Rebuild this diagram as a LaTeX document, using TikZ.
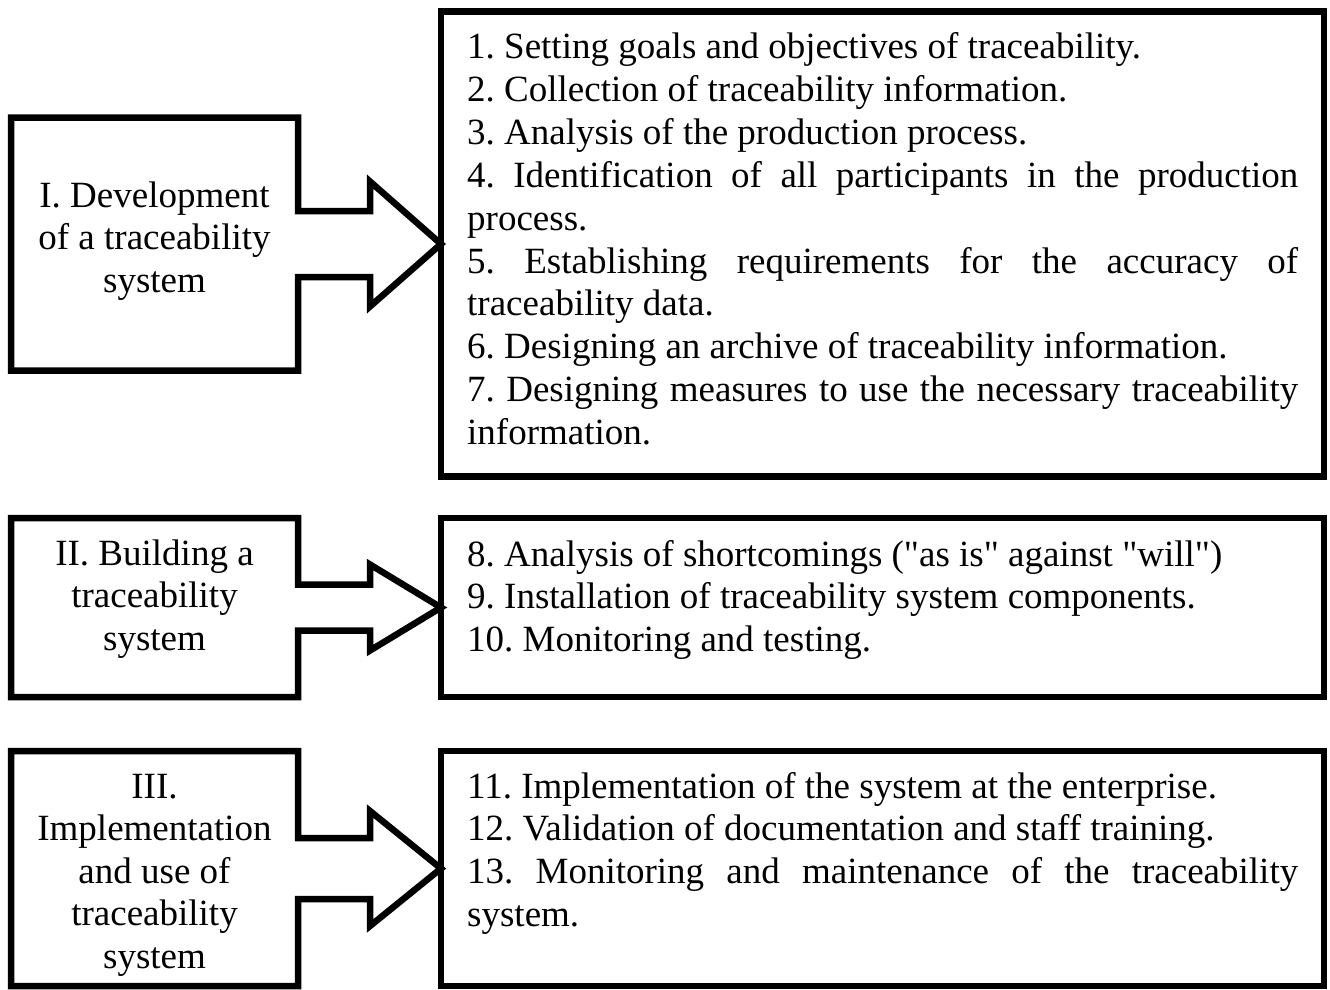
\documentclass[tikz,border=0pt]{standalone}
\usepackage{fontspec}
\setmainfont{Liberation Serif}[Ligatures=TeXOff]
\usetikzlibrary{calc}
\hyphenpenalty=10000
\exhyphenpenalty=10000
\tolerance=10000
\frenchspacing

% Outline of a stage box merged with its block arrow:
% #1 stage node, #2 list node, #3 shaft half-width, #4 head half-height
\newcommand\stagearrow[4]{%
  \draw[stageframe]
    (#1.north west) -- (#1.north east)
    -- ($(#1.east)+(0,-#3)$) -- ($(#1.east)+(72,-#3)$)
    -- ($(#1.east)+(72,-#4)$) -- (#2.west)
    -- ($(#1.east)+(72,#4)$) -- ($(#1.east)+(72,#3)$)
    -- ($(#1.east)+(0,#3)$) -- (#1.south east)
    -- (#1.south west) -- cycle;}

\begin{document}
\begin{tikzpicture}[x=1pt,y=-1pt,
  stageframe/.style={draw=black, line width=6.5pt, line join=miter},
  stagebox/.style={rectangle, inner sep=0pt, outer sep=0pt, minimum width=287pt},
  listbox/.style={rectangle, draw=black, line width=6.5pt, inner sep=0pt,
    outer sep=0pt, minimum width=883pt},
  stagetext/.style={align=center, anchor=base, inner sep=0pt,
    font=\fontsize{37}{42.5}\selectfont\frenchspacing},
  listtext/.style={text width=831pt, align=justify, anchor=base west,
    inner sep=0pt, font=\fontsize{37}{42.8}\selectfont\frenchspacing},
]
\useasboundingbox (0,0) rectangle (1330,990);

% stage I (text nodes are placed by the baseline of their last line)
\node[stagebox, minimum height=253pt] (s1) at (154.5,244) {};
\node[listbox, minimum height=465pt] (r1) at (882.5,244) {};
\stagearrow{s1}{r1}{33}{62.5}
\node[stagetext] (t1) at (154.5,292) {I. Development\\of a traceability\\system};
\node[listtext] (l1) at (467,59) {%
1. Setting goals and objectives of traceability.\par
2. Collection of traceability information.\par
3. Analysis of the production process.\par
4. Identification of all participants in the production\linebreak process.\par
5. Establishing requirements for the accuracy of\linebreak traceability data.\par
6. Designing an archive of traceability information.\par
7. Designing measures to use the necessary traceability\linebreak information.};

% stage II
\node[stagebox, minimum height=179pt] (s2) at (154.5,607.5) {};
\node[listbox, minimum height=179pt] (r2) at (882.5,607.5) {};
\stagearrow{s2}{r2}{23}{43}
\node[stagetext] (t2) at (154.5,650) {II. Building a\\traceability\\system};
\node[listtext] (l2) at (467,566) {%
8. Analysis of shortcomings ("as is" against "will")\par
9. Installation of traceability system components.\par
10. Monitoring and testing.};

% stage III
\node[stagebox, minimum height=235pt] (s3) at (154.5,868.5) {};
\node[listbox, minimum height=235pt] (r3) at (882.5,868.5) {};
\stagearrow{s3}{r3}{30.5}{57.5}
\node[stagetext] (t3) at (154.5,968) {III.\\Implementation\\and use of\\traceability\\system};
\node[listtext] (l3) at (467,798) {%
11. Implementation of the system at the enterprise.\par
12. Validation of documentation and staff training.\par
13. Monitoring and maintenance of the traceability\linebreak system.};
\end{tikzpicture}
\end{document}
